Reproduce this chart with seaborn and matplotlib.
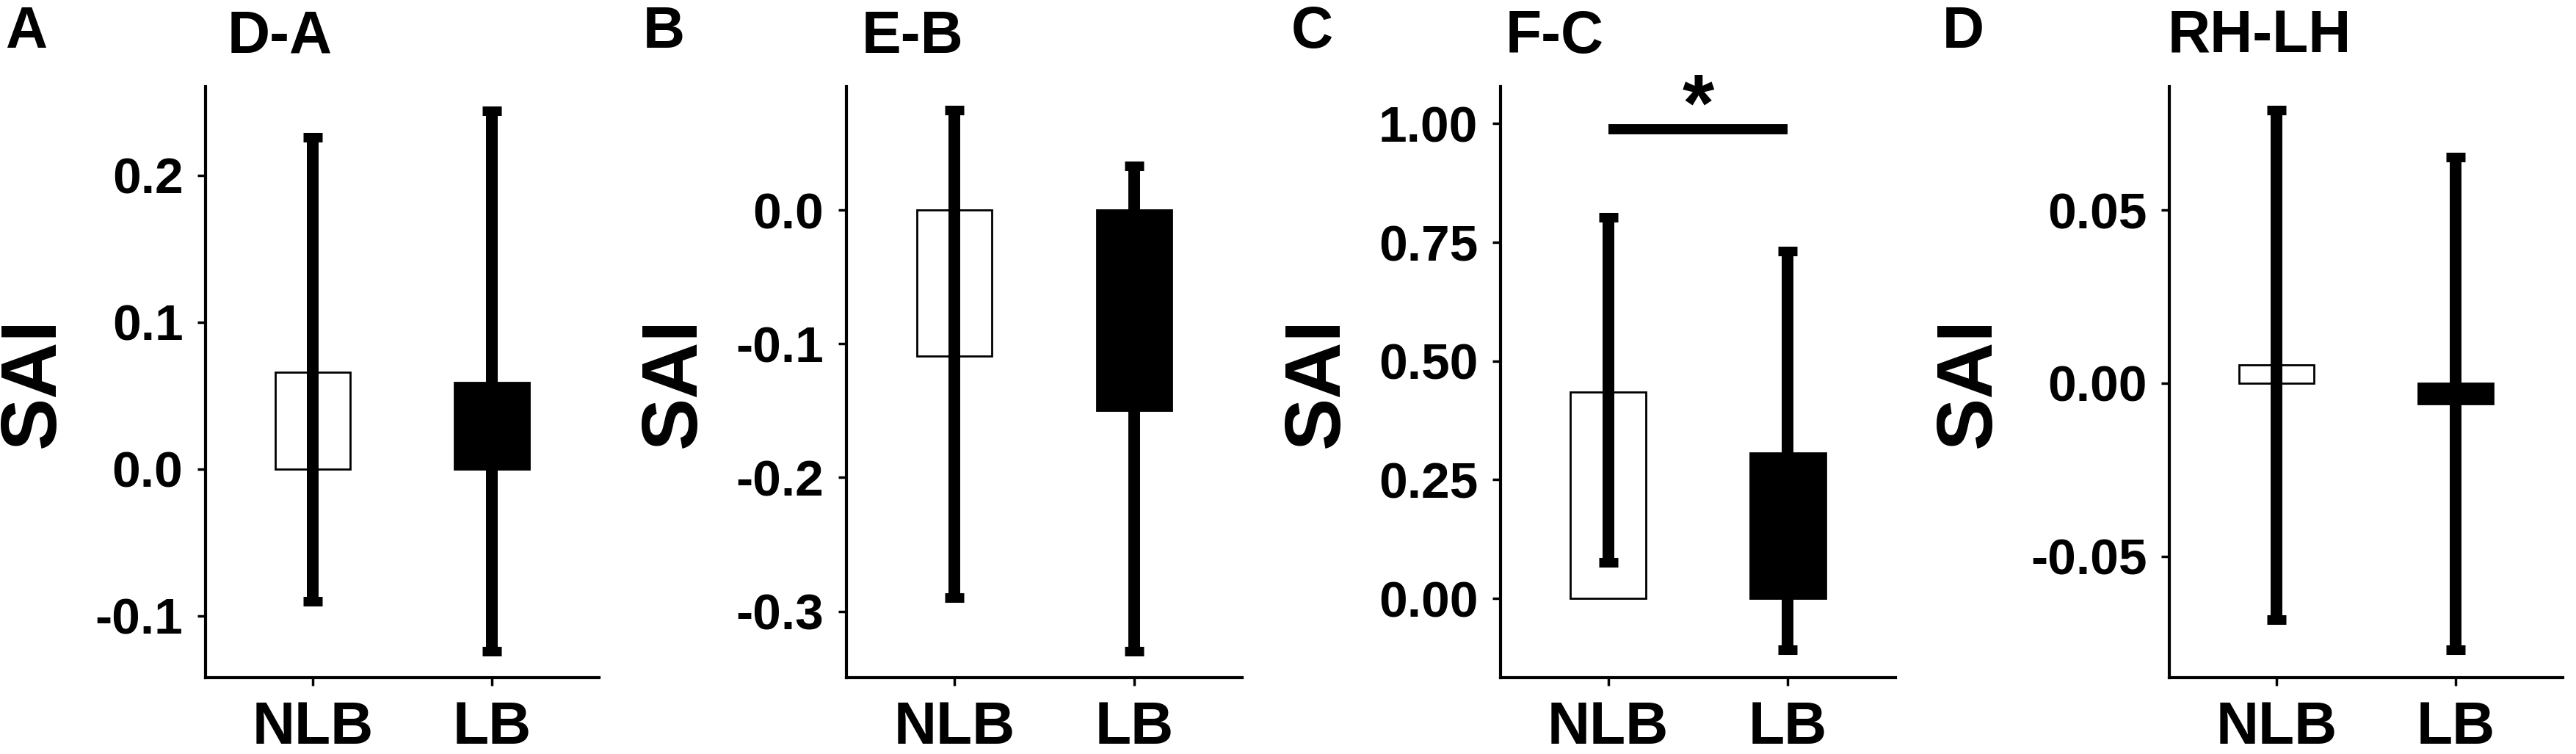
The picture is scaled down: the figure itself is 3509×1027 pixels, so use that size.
import pandas as pd
import matplotlib
matplotlib.use("Agg")
import matplotlib.pyplot as plt
import seaborn as sns

# datos (media y extremos de la barra de error)
groups = ["NLB", "LB"]
panel_letters = ["A", "B", "C", "D"]
panel_titles = ["D-A", "E-B", "F-C", "RH-LH"]

mean_da = [0.066, 0.059]
low_da = [-0.090, -0.124]
high_da = [0.226, 0.244]

mean_eb = [-0.109, -0.150]
low_eb = [-0.290, -0.330]
high_eb = [0.0745, 0.033]

mean_fc = [0.435, 0.307]
low_fc = [0.076, -0.108]
high_fc = [0.803, 0.732]

mean_rl = [0.0053, -0.006]
low_rl = [-0.0684, -0.0771]
high_rl = [0.079, 0.0653]

ticks_da = [-0.1, 0.0, 0.1, 0.2]
labels_da = ["-0.1", "0.0", "0.1", "0.2"]
ticks_eb = [-0.3, -0.2, -0.1, 0.0]
labels_eb = ["-0.3", "-0.2", "-0.1", "0.0"]
ticks_fc = [0.0, 0.25, 0.5, 0.75, 1.0]
labels_fc = ["0.00", "0.25", "0.50", "0.75", "1.00"]
ticks_rl = [-0.05, 0.0, 0.05]
labels_rl = ["-0.05", "0.00", "0.05"]

# significancia en el panel C
sig_y = 0.989
sig_label = "*"

sns.set_style("ticks")
plt.rcParams["font.family"] = ["Liberation Sans", "DejaVu Sans"]
plt.rcParams["font.weight"] = "bold"
plt.rcParams["axes.unicode_minus"] = False
for key in ["text.color", "axes.labelcolor", "xtick.color", "ytick.color",
            "axes.edgecolor"]:
    plt.rcParams[key] = "black"

W, H = 3509, 1027
fig = plt.figure(figsize=(W / 100, H / 100), dpi=100)

# posiciones de los ejes en pixeles (izquierda, derecha) y limites
ax_px = [(280, 816), (1153, 1692), (2044, 2582), (2955, 3491)]
top_px, bottom_px = 118, 923
ylims = [(-0.142, 0.2605), (-0.3496, 0.0923), (-0.167, 1.078), (-0.0851, 0.0857)]
title_x = [310, 1174, 2051, 2953]
letter_x = [7, 876, 1759, 2646]

panels = [
    (mean_da, low_da, high_da, ticks_da, labels_da),
    (mean_eb, low_eb, high_eb, ticks_eb, labels_eb),
    (mean_fc, low_fc, high_fc, ticks_fc, labels_fc),
    (mean_rl, low_rl, high_rl, ticks_rl, labels_rl),
]

for i, (means, lows, highs, ticks, labels) in enumerate(panels):
    left, right = ax_px[i]
    ax = fig.add_axes([left / W, 1 - bottom_px / H, (right - left) / W,
                       (bottom_px - top_px) / H])
    df = pd.DataFrame({"group": groups, "SAI": means})
    sns.barplot(data=df, x="group", y="SAI", hue="group", order=groups,
                palette={"NLB": "white", "LB": "black"}, edgecolor="black",
                linewidth=2, width=0.42, dodge=False, legend=False,
                errorbar=None, ax=ax)

    yerr = [[m - lo for m, lo in zip(means, lows)],
            [hi - m for m, hi in zip(means, highs)]]
    eb = ax.errorbar(x=[0, 1], y=means, yerr=yerr, fmt="none", ecolor="black",
                     elinewidth=11.5, capsize=9.7, capthick=9.4, zorder=3)
    for col in eb[2]:
        col.set_capstyle("butt")

    if i == 2:
        ax.plot([0, 1], [sig_y, sig_y], color="black", lw=10,
                solid_capstyle="butt")
        ax.text(0.5, 0.985, sig_label, ha="center", va="baseline",
                fontsize=80, fontweight="bold", color="black")

    ax.set_xlim(-0.6, 1.6)
    ax.set_ylim(*ylims[i])
    ax.set_yticks(ticks)
    ax.set_yticklabels(labels)
    ax.set_xlabel("")
    ax.set_ylabel("SAI", fontsize=77, fontweight="bold", labelpad=24)
    ax.tick_params(axis="y", labelsize=50, length=8, width=2.5, pad=14,
                   colors="black")
    ax.tick_params(axis="x", labelsize=58, length=8, width=2.5, pad=14,
                   colors="black")
    for lab in ax.get_xticklabels() + ax.get_yticklabels():
        lab.set_fontweight("bold")
    sns.despine(ax=ax)
    for sp in ["left", "bottom"]:
        ax.spines[sp].set_linewidth(3)
        ax.spines[sp].set_color("black")

    fig.text(title_x[i] / W, 1 - 72 / H, panel_titles[i], fontsize=58,
             fontweight="bold", ha="left", va="baseline", color="black")
    fig.text(letter_x[i] / W, 1 - 65 / H, panel_letters[i], fontsize=57,
             fontweight="bold", ha="left", va="baseline", color="black")

fig.savefig("out.png", dpi=100)
